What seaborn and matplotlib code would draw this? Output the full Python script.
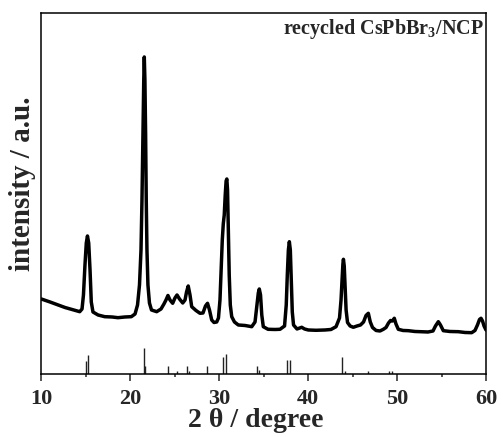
import matplotlib
matplotlib.use("Agg")
import matplotlib.pyplot as plt
import seaborn as sns
import pandas as pd
from matplotlib.ticker import MultipleLocator

# measured XRD pattern (2theta in degree, intensity in arbitrary units)
two_theta = [10.00, 10.98, 11.88, 12.66, 13.37, 14.32, 14.58, 14.74, 14.91, 15.06,
             15.19, 15.33, 15.48, 15.62, 15.81, 16.38, 17.13, 17.95, 18.62, 19.41,
             20.12, 20.54, 20.82, 21.04, 21.21, 21.32, 21.43, 21.52, 21.58, 21.65,
             21.73, 21.80, 21.88, 21.99, 22.16, 22.39, 22.97, 23.46, 23.79, 24.02,
             24.24, 24.47, 24.77, 25.03, 25.26, 25.54, 25.90, 26.16, 26.33, 26.52,
             26.72, 26.91, 27.39, 27.84, 28.18, 28.46, 28.69, 28.91, 29.16, 29.42,
             29.72, 29.92, 30.09, 30.24, 30.35, 30.46, 30.57, 30.68, 30.78, 30.86,
             30.94, 31.03, 31.13, 31.25, 31.41, 31.72, 32.15, 32.90, 33.66, 34.03,
             34.25, 34.40, 34.51, 34.65, 34.79, 34.96, 35.49, 36.28, 36.84, 37.35,
             37.54, 37.66, 37.78, 37.89, 38.00, 38.11, 38.22, 38.36, 38.75, 39.28,
             39.60, 40.02, 40.89, 41.90, 42.57, 43.14, 43.53, 43.70, 43.82, 43.91,
             43.97, 44.06, 44.15, 44.27, 44.43, 44.72, 45.08, 45.50, 45.89, 46.23,
             46.51, 46.77, 46.99, 47.24, 47.64, 48.08, 48.46, 48.76, 49.04, 49.27,
             49.49, 49.69, 49.88, 50.14, 50.67, 51.26, 52.02, 52.77, 53.48, 54.04,
             54.32, 54.64, 54.88, 55.20, 55.95, 56.89, 57.64, 58.39, 58.76, 59.04,
             59.27, 59.44, 59.61, 59.78, 60.00]
intensity = [75, 72, 69, 66.5, 64.7, 62.3, 65, 79, 109, 131,
             138, 131, 104, 72, 62, 59, 57.3, 57, 56.3, 57,
             57.3, 60, 69, 89, 124, 174, 239, 294, 317, 294,
             239, 174, 124, 89, 71, 64, 62.3, 65, 70, 74,
             78.5, 74, 70.7, 76, 79, 75, 71, 74, 82, 88,
             79, 67.3, 63.5, 60.7, 61, 68, 70.7, 64, 54, 51.5,
             52, 56, 74, 109, 134, 150, 159, 179, 193, 195,
             184, 144, 99, 69, 57.3, 52, 49, 48.5, 47.3, 52,
             69, 81, 85, 79, 59, 47.3, 44.7, 44.5, 44.7, 48,
             69, 99, 124, 132.3, 124, 94, 62, 49, 45, 46.7,
             45, 44, 43.7, 44, 44.5, 47.3, 56, 74, 94, 110,
             114.7, 108, 89, 64, 51.5, 48, 46.7, 48, 49, 52,
             58.5, 60.7, 52, 46.5, 43.5, 43, 44.7, 46.5, 51, 53.5,
             53, 55.7, 50, 44.7, 43.5, 43.3, 42.5, 42.3, 42, 43,
             48, 52.3, 49, 43.3, 42.5, 42.3, 41.5, 41.3, 43.5, 49,
             54.5, 55.7, 53, 48, 44]

# reference pattern sticks (CsPbBr3)
ref_theta = [15.03, 15.22, 21.55, 21.66, 24.21, 25.22, 26.35, 26.57, 28.63, 30.39,
             30.73, 34.29, 34.44, 37.66, 37.96, 43.78, 44.15, 46.70, 49.13, 49.43]
ref_height = [13.3, 19.3, 26, 8.3, 8.3, 2.7, 8.3, 2.7, 8.3, 16.7,
              20, 8.3, 4, 14, 14, 16.7, 2.7, 2.7, 2.7, 2.7]

df = pd.DataFrame({"two_theta": two_theta, "intensity": intensity})

sns.set_style("ticks")
plt.rcParams["font.family"] = ["Liberation Serif", "DejaVu Serif"]
plt.rcParams["font.weight"] = "bold"
plt.rcParams["mathtext.fontset"] = "custom"
plt.rcParams["mathtext.rm"] = "Liberation Serif"
plt.rcParams["mathtext.bf"] = "Liberation Serif:bold"

fig = plt.figure(figsize=(5.03, 4.37), dpi=100)
ax = fig.add_axes([0.0821, 0.1442, 0.8841, 0.8268])

sns.lineplot(data=df, x="two_theta", y="intensity", ax=ax, color="black",
             linewidth=2.5, estimator=None, sort=False)
ax.vlines(ref_theta, 0, ref_height, color="#222222", linewidth=1.0)

ax.set_xlim(10, 60)
ax.set_ylim(0, 361.3)
ax.xaxis.set_major_locator(MultipleLocator(10))
ax.xaxis.set_minor_locator(MultipleLocator(5))
ax.tick_params(axis="x", which="major", direction="out", length=5, width=1.1,
               labelsize=16, pad=6, top=False)
ax.tick_params(axis="x", which="minor", direction="out", length=2.5, width=1.1, top=False)
ax.set_yticks([])
for lab in ax.get_xticklabels():
    lab.set_fontweight("bold")
for sp in ax.spines.values():
    sp.set_visible(True)
    sp.set_linewidth(1.1)
    sp.set_color("black")

ax.set_xlabel("2 θ / degree", fontsize=20, fontweight="bold")
ax.xaxis.set_label_coords(0.482, -0.095)
ax.set_ylabel("intensity / a.u.", fontsize=21, fontweight="bold")
ax.yaxis.set_label_coords(-0.012, 0.527)
ax.text(0.995, 0.955, "recycled CsPbBr$_\\mathbf{3}$/NCP", transform=ax.transAxes,
        ha="right", va="center", fontsize=14.5, fontweight="bold")

fig.savefig("out.png", dpi=100)
